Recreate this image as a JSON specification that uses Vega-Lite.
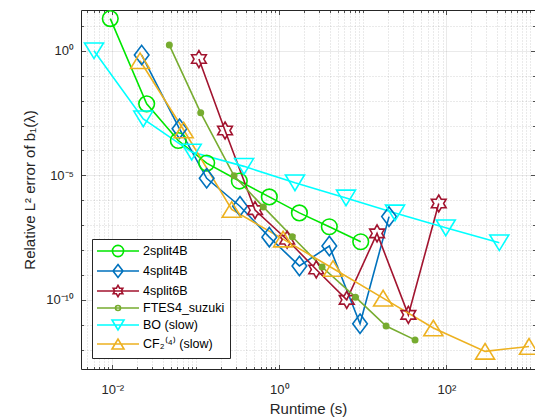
{
  "$schema": "https://vega.github.io/schema/vega-lite/v6.json",
  "width": 454,
  "height": 359,
  "autosize": {"type": "none"},
  "padding": {"left": 81, "top": 10, "right": 0, "bottom": 51},
  "background": "white",
  "config": {
    "view": {"stroke": null},
    "font": "Liberation Sans",
    "axis": {
      "labelFont": "Liberation Sans",
      "titleFont": "Liberation Sans",
      "labelColor": "#262626",
      "titleColor": "#262626",
      "domainColor": "#262626",
      "domainWidth": 1,
      "tickColor": "#262626",
      "tickWidth": 0.8,
      "titleFontWeight": "normal",
      "labelFontSize": 13,
      "titleFontSize": 15,
      "labelOverlap": false,
      "labelFlush": false,
      "labelBound": false
    }
  },
  "data": {
    "values": [
      {"series": "2split4B", "i": 1, "t": 0.00946, "err": 19.6},
      {"series": "2split4B", "i": 2, "t": 0.0258, "err": 0.0074},
      {"series": "2split4B", "i": 3, "t": 0.0617, "err": 0.00025},
      {"series": "2split4B", "i": 4, "t": 0.135, "err": 3.1e-5},
      {"series": "2split4B", "i": 5, "t": 0.332, "err": 5.9e-6},
      {"series": "2split4B", "i": 6, "t": 0.759, "err": 1.36e-6},
      {"series": "2split4B", "i": 7, "t": 1.74, "err": 3.1e-7},
      {"series": "2split4B", "i": 8, "t": 3.97, "err": 8.6e-8},
      {"series": "2split4B", "i": 9, "t": 9.44, "err": 2.15e-8},
      {"series": "4split4B", "i": 1, "t": 0.0225, "err": 0.673},
      {"series": "4split4B", "i": 2, "t": 0.0638, "err": 0.00074},
      {"series": "4split4B", "i": 3, "t": 0.135, "err": 7.6e-6},
      {"series": "4split4B", "i": 4, "t": 0.338, "err": 5.75e-7},
      {"series": "4split4B", "i": 5, "t": 0.759, "err": 3.3e-8},
      {"series": "4split4B", "i": 6, "t": 1.74, "err": 2.3e-9},
      {"series": "4split4B", "i": 7, "t": 3.97, "err": 1.45e-8},
      {"series": "4split4B", "i": 8, "t": 9.26, "err": 1.1e-11},
      {"series": "4split4B", "i": 9, "t": 20.6, "err": 2.2e-7},
      {"series": "4split6B", "i": 1, "t": 0.109, "err": 0.466},
      {"series": "4split6B", "i": 2, "t": 0.224, "err": 0.00063},
      {"series": "4split6B", "i": 3, "t": 0.512, "err": 4.0e-7},
      {"series": "4split6B", "i": 4, "t": 1.24, "err": 2.6e-8},
      {"series": "4split6B", "i": 5, "t": 2.77, "err": 1.66e-9},
      {"series": "4split6B", "i": 6, "t": 6.42, "err": 1.0e-10},
      {"series": "4split6B", "i": 7, "t": 14.8, "err": 4.66e-8},
      {"series": "4split6B", "i": 8, "t": 35.1, "err": 2.5e-11},
      {"series": "4split6B", "i": 9, "t": 81.1, "err": 7.4e-7},
      {"series": "FTES4_suzuki", "i": 1, "t": 0.0482, "err": 1.69},
      {"series": "FTES4_suzuki", "i": 2, "t": 0.1145, "err": 0.00322},
      {"series": "FTES4_suzuki", "i": 3, "t": 0.287, "err": 9.55e-6},
      {"series": "FTES4_suzuki", "i": 4, "t": 0.643, "err": 5.4e-7},
      {"series": "FTES4_suzuki", "i": 5, "t": 1.43, "err": 3.4e-8},
      {"series": "FTES4_suzuki", "i": 6, "t": 3.25, "err": 2.09e-9},
      {"series": "FTES4_suzuki", "i": 7, "t": 8.18, "err": 1.28e-10},
      {"series": "FTES4_suzuki", "i": 8, "t": 19.0, "err": 8.9e-12},
      {"series": "FTES4_suzuki", "i": 9, "t": 42.2, "err": 2.47e-12},
      {"series": "BO (slow)", "i": 1, "t": 0.00604, "err": 1.0},
      {"series": "BO (slow)", "i": 2, "t": 0.0235, "err": 0.00185},
      {"series": "BO (slow)", "i": 3, "t": 0.0893, "err": 8.55e-5},
      {"series": "BO (slow)", "i": 4, "t": 0.378, "err": 2.29e-5},
      {"series": "BO (slow)", "i": 5, "t": 1.54, "err": 5.0e-6},
      {"series": "BO (slow)", "i": 6, "t": 6.29, "err": 1.24e-6},
      {"series": "BO (slow)", "i": 7, "t": 24.3, "err": 3.1e-7},
      {"series": "BO (slow)", "i": 8, "t": 98.4, "err": 7.8e-8},
      {"series": "BO (slow)", "i": 9, "t": 431, "err": 1.96e-8},
      {"series": "CF₂⁽⁴⁾ (slow)", "i": 1, "t": 0.0215, "err": 0.398},
      {"series": "CF₂⁽⁴⁾ (slow)", "i": 2, "t": 0.0716, "err": 0.00066},
      {"series": "CF₂⁽⁴⁾ (slow)", "i": 3, "t": 0.269, "err": 4.25e-7},
      {"series": "CF₂⁽⁴⁾ (slow)", "i": 4, "t": 1.11, "err": 2.75e-8},
      {"series": "CF₂⁽⁴⁾ (slow)", "i": 5, "t": 4.40, "err": 1.82e-9},
      {"series": "CF₂⁽⁴⁾ (slow)", "i": 6, "t": 17.5, "err": 1.17e-10},
      {"series": "CF₂⁽⁴⁾ (slow)", "i": 7, "t": 69.9, "err": 7.4e-12},
      {"series": "CF₂⁽⁴⁾ (slow)", "i": 8, "t": 291, "err": 8.55e-13},
      {"series": "CF₂⁽⁴⁾ (slow)", "i": 9, "t": 978, "err": 1.35e-12}
    ]
  },
  "layer": [
    {
      "mark": {"type": "line", "strokeWidth": 1.6, "clip": true},
      "encoding": {
        "x": {
          "field": "t", "type": "quantitative",
          "scale": {"type": "log", "domain": [0.00422, 1153], "nice": false},
          "axis": {
            "orient": "bottom",
            "title": "Runtime (s)",
            "values": [0.005,0.006,0.007,0.008,0.009,0.01,0.02,0.03,0.04,0.05,0.06,0.07,0.08,0.09,0.1,0.2,0.3,0.4,0.5,0.6,0.7,0.8,0.9,1,2,3,4,5,6,7,8,9,10,20,30,40,50,60,70,80,90,100,200,300,400,500,600,700,800,900,1000],
            "labelExpr": "datum.value == 0.01 ? '10⁻²' : datum.value == 1 ? '10⁰' : datum.value == 100 ? '10²' : ''",
            "labelPadding": 19,
            "titlePadding": 3,
            "grid": true,
            "gridColor": "#262626",
            "gridWidth": 0.7,
            "gridOpacity": {"condition": {"test": "datum.value == 0.01 || datum.value == 1 || datum.value == 100", "value": 0.14}, "value": 0.28},
            "gridDash": {"condition": {"test": "datum.value == 0.01 || datum.value == 1 || datum.value == 100", "value": []}, "value": [1, 2]},
            "tickSize": {"condition": {"test": "datum.value == 0.01 || datum.value == 1 || datum.value == 100", "value": -4.5}, "value": -2.5}
          }
        },
        "y": {
          "field": "err", "type": "quantitative",
          "scale": {"type": "log", "domain": [1.675e-13, 43.4], "nice": false},
          "axis": {
            "orient": "left",
            "title": "Relative L² error of b₁(λ)",
            "values": [1e-12,1e-11,1e-10,1e-9,1e-8,1e-7,1e-6,1e-5,1e-4,1e-3,1e-2,1e-1,1,10],
            "labelExpr": "datum.value == 1 ? '10⁰' : datum.value == 1e-5 ? '10⁻⁵' : datum.value == 1e-10 ? '10⁻¹⁰' : ''",
            "labelPadding": 12,
            "titlePadding": 8,
            "grid": true,
            "gridColor": "#262626",
            "gridWidth": 0.7,
            "gridOpacity": {"condition": {"test": "datum.value == 1 || datum.value == 1e-5 || datum.value == 1e-10", "value": 0.14}, "value": 0.28},
            "gridDash": {"condition": {"test": "datum.value == 1 || datum.value == 1e-5 || datum.value == 1e-10", "value": []}, "value": [1, 2]},
            "tickSize": {"condition": {"test": "datum.value == 1 || datum.value == 1e-5 || datum.value == 1e-10", "value": -4.5}, "value": -2.5}
          }
        },
        "color": {
          "field": "series", "type": "nominal",
          "scale": {
            "domain": ["2split4B", "4split4B", "4split6B", "FTES4_suzuki", "BO (slow)", "CF₂⁽⁴⁾ (slow)"],
            "range": ["#00e600", "#0072BD", "#A2142F", "#77AC30", "#00FFFF", "#EDB120"]
          }
        },
        "order": {"field": "i", "type": "quantitative"}
      }
    },
    {
      "mark": {"type": "point", "filled": false, "size": 400, "strokeWidth": 1.6, "opacity": 1},
      "encoding": {
        "x": {
          "field": "t", "type": "quantitative",
          "scale": {"type": "log", "domain": [0.00422, 1153], "nice": false},
          "axis": {
            "orient": "top", "title": null, "labels": false, "grid": false, "domain": true,
            "values": [0.005,0.006,0.007,0.008,0.009,0.01,0.02,0.03,0.04,0.05,0.06,0.07,0.08,0.09,0.1,0.2,0.3,0.4,0.5,0.6,0.7,0.8,0.9,1,2,3,4,5,6,7,8,9,10,20,30,40,50,60,70,80,90,100,200,300,400,500,600,700,800,900,1000],
            "tickSize": {"condition": {"test": "datum.value == 0.01 || datum.value == 1 || datum.value == 100", "value": -4.5}, "value": -2.5}
          }
        },
        "y": {
          "field": "err", "type": "quantitative",
          "scale": {"type": "log", "domain": [1.675e-13, 43.4], "nice": false},
          "axis": {
            "orient": "right", "title": null, "labels": false, "grid": false, "domain": false,
            "values": [1e-12,1e-11,1e-10,1e-9,1e-8,1e-7,1e-6,1e-5,1e-4,1e-3,1e-2,1e-1,1,10],
            "tickSize": {"condition": {"test": "datum.value == 1 || datum.value == 1e-5 || datum.value == 1e-10", "value": -4.5}, "value": -2.5}
          }
        },
        "color": {
          "field": "series", "type": "nominal",
          "scale": {
            "domain": ["2split4B", "4split4B", "4split6B", "FTES4_suzuki", "BO (slow)", "CF₂⁽⁴⁾ (slow)"],
            "range": ["#00e600", "#0072BD", "#A2142F", "#77AC30", "#00FFFF", "#EDB120"]
          }
        },
        "shape": {
          "condition": [
            {"test": "datum.series === '2split4B'", "value": "M0.78,0A0.78,0.78 0 1,1 -0.78,0A0.78,0.78 0 1,1 0.78,0Z"},
            {"test": "datum.series === '4split4B'", "value": "M0,-0.97L0.73,0L0,0.97L-0.73,0Z"},
            {"test": "datum.series === '4split6B'", "value": "M0,-0.85L0.245,-0.425L0.736,-0.425L0.491,0L0.736,0.425L0.245,0.425L0,0.85L-0.245,0.425L-0.736,0.425L-0.491,0L-0.736,-0.425L-0.245,-0.425Z"},
            {"test": "datum.series === 'FTES4_suzuki'", "value": "M0.27,0A0.27,0.27 0 1,1 -0.27,0A0.27,0.27 0 1,1 0.27,0Z"},
            {"test": "datum.series === 'BO (slow)'", "value": "M-0.95,-0.78L0.95,-0.78L0,0.78Z"}
          ],
          "value": "M-0.95,0.78L0.95,0.78L0,-0.78Z"
        },
        "fill": {
          "condition": {"test": "datum.series === 'FTES4_suzuki'", "value": "#77AC30"},
          "value": "transparent"
        }
      }
    },
    {
      "transform": [{"filter": "false"}],
      "mark": {"type": "point", "filled": false, "strokeWidth": 1.6},
      "encoding": {
        "x": {"field": "t", "type": "quantitative", "scale": {"type": "log", "domain": [0.00422, 1153], "nice": false}, "axis": null},
        "y": {"field": "err", "type": "quantitative", "scale": {"type": "log", "domain": [1.675e-13, 43.4], "nice": false}, "axis": null},
        "color": {
          "field": "series", "type": "nominal",
          "scale": {
            "domain": ["2split4B", "4split4B", "4split6B", "FTES4_suzuki", "BO (slow)", "CF₂⁽⁴⁾ (slow)"],
            "range": ["#00e600", "#0072BD", "#A2142F", "#77AC30", "#00FFFF", "#EDB120"]
          },
          "legend": {
            "title": null,
            "orient": "bottom-left",
            "offset": 11,
            "padding": 5,
            "rowPadding": 1,
            "strokeColor": "#262626",
            "fillColor": "white",
            "cornerRadius": 0,
            "symbolSize": 144,
            "symbolStrokeWidth": 1.6,
            "symbolOffset": 14,
            "labelOffset": 18,
            "labelFont": "Liberation Sans",
            "labelFontSize": 12.5,
            "labelColor": "#000000",
            "labelLimit": 200,
            "encode": {
              "symbols": {
                "update": {
                  "fill": {"signal": "datum.value === 'FTES4_suzuki' ? '#77AC30' : 'transparent'"}
                }
              }
            }
          }
        },
        "shape": {
          "field": "series", "type": "nominal",
          "scale": {
            "domain": ["2split4B", "4split4B", "4split6B", "FTES4_suzuki", "BO (slow)", "CF₂⁽⁴⁾ (slow)"],
            "range": [
              "M-3.5,0H3.5M0.93,0A0.93,0.93 0 1,1 -0.93,0A0.93,0.93 0 1,1 0.93,0Z",
              "M-3.5,0H3.5M0,-1.08L0.83,0L0,1.08L-0.83,0Z",
              "M-3.5,0H3.5M0,-0.93L0.269,-0.465L0.805,-0.465L0.537,0L0.805,0.465L0.269,0.465L0,0.93L-0.269,0.465L-0.805,0.465L-0.537,0L-0.805,-0.465L-0.269,-0.465Z",
              "M-3.5,0H3.5M0.42,0A0.42,0.42 0 1,1 -0.42,0A0.42,0.42 0 1,1 0.42,0Z",
              "M-3.5,0H3.5M-1,-0.83L1,-0.83L0,0.83Z",
              "M-3.5,0H3.5M-1,0.83L1,0.83L0,-0.83Z"
            ]
          },
          "legend": {
            "title": null,
            "orient": "bottom-left",
            "offset": 11,
            "padding": 5,
            "rowPadding": 1,
            "strokeColor": "#262626",
            "fillColor": "white",
            "cornerRadius": 0,
            "symbolSize": 144,
            "symbolStrokeWidth": 1.6,
            "symbolOffset": 14,
            "labelOffset": 18,
            "labelFont": "Liberation Sans",
            "labelFontSize": 12.5,
            "labelColor": "#000000",
            "labelLimit": 200,
            "encode": {
              "symbols": {
                "update": {
                  "fill": {"signal": "datum.value === 'FTES4_suzuki' ? '#77AC30' : 'transparent'"}
                }
              }
            }
          }
        }
      }
    }
  ],
  "resolve": {"axis": {"x": "independent", "y": "independent"}}
}
